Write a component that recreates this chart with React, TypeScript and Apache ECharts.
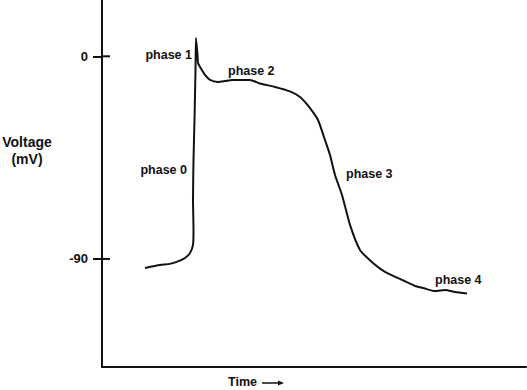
import React, { useEffect, useRef } from "react";
import * as echarts from "echarts";

const timeValues = [43, 58, 68, 76, 83, 88, 91, 91.5, 91, 91.5, 92.5, 93.5, 94, 95.5, 96, 98, 103, 108, 116, 123, 130, 138, 148, 158, 173, 188, 198, 208, 216, 223, 228, 233, 240, 248, 258, 271, 283, 298, 313, 321, 333, 343, 353, 365];
const voltageValues = [-94.0, -92.7, -92.2, -91.1, -89.6, -87.4, -83.8, -77.1, -63.8, -46.1, -28.3, -6.1, 8.1, 0.6, -3.0, -4.7, -8.3, -10.5, -11.4, -11.0, -10.5, -10.5, -10.5, -12.1, -13.6, -15.6, -18.1, -23.0, -28.3, -37.2, -43.8, -52.7, -61.6, -74.9, -86.0, -91.8, -95.8, -98.9, -102.0, -102.9, -104.3, -103.8, -104.7, -105.4];
const yTickValues = [0, -90];
const phaseLabels = ["phase 0", "phase 1", "phase 2", "phase 3", "phase 4"];
const axisTitleY = ["Voltage", "(mV)"];
const axisTitleX = "Time";

const FONT = "'Liberation Sans', Arial, Helvetica, sans-serif";

export default function App() {
  const ref = useRef<HTMLDivElement>(null);
  useEffect(() => {
    if (!ref.current) return;
    const chart = echarts.init(ref.current, null, { renderer: "svg" });
    const data = timeValues.map((t, i) => [t, voltageValues[i]]);
    const phasePos = [
      { x: 187, y: 170, align: "right" },
      { x: 192, y: 55, align: "right" },
      { x: 228, y: 71, align: "left" },
      { x: 346, y: 174, align: "left" },
      { x: 435, y: 280, align: "left" },
    ];
    const baseGraphic: any[] = [
      ...phaseLabels.map((txt, i) => ({
        type: "text",
        x: phasePos[i].x,
        y: phasePos[i].y,
        style: {
          text: txt,
          fill: "#111",
          font: `bold 12.5px ${FONT}`,
          textAlign: phasePos[i].align,
          textVerticalAlign: "middle",
        },
      })),
      {
        type: "text",
        x: 27,
        y: 142,
        style: { text: axisTitleY[0], fill: "#111", font: `bold 14px ${FONT}`, textAlign: "center", textVerticalAlign: "middle" },
      },
      {
        type: "text",
        x: 27,
        y: 159,
        style: { text: axisTitleY[1], fill: "#111", font: `bold 14px ${FONT}`, textAlign: "center", textVerticalAlign: "middle" },
      },
      {
        type: "text",
        x: 228,
        y: 382,
        style: { text: axisTitleX, fill: "#111", font: `bold 12.5px ${FONT}`, textAlign: "left", textVerticalAlign: "middle" },
      },
      {
        type: "line",
        shape: { x1: 262, y1: 383, x2: 279, y2: 383 },
        style: { stroke: "#111", lineWidth: 1.5 },
      },
      {
        type: "polygon",
        shape: { points: [[278, 380.5], [284, 383], [278, 385.5]] },
        style: { fill: "#111" },
      },
    ];
    chart.setOption({
      animation: false,
      backgroundColor: "#ffffff",
      grid: { left: 102, right: 1, top: 0, bottom: 23, containLabel: false },
      xAxis: {
        type: "value",
        min: 0,
        max: 424,
        axisLine: { show: true, onZero: false, lineStyle: { color: "#111", width: 2 } },
        axisTick: { show: false },
        axisLabel: { show: false },
        splitLine: { show: false },
      },
      yAxis: {
        type: "value",
        min: -138,
        max: 25,
        position: "left",
        axisLine: { show: true, onZero: false, lineStyle: { color: "#111", width: 2 } },
        axisTick: { show: true, inside: false, length: 9, lineStyle: { color: "#111", width: 2 }, customValues: yTickValues },
        axisLabel: {
          show: true,
          customValues: yTickValues,
          margin: 14,
          color: "#111",
          fontFamily: FONT,
          fontWeight: "bold",
          fontSize: 13,
        },
        splitLine: { show: false },
      },
      series: [
        {
          type: "line",
          data,
          smooth: 0.2,
          showSymbol: false,
          symbol: "none",
          lineStyle: { color: "#111", width: 2 },
        },
      ],
      graphic: baseGraphic,
    });
    // inner half of the crossing ticks, placed through the library's y scale
    const innerTicks = yTickValues.map((v) => {
      const p = chart.convertToPixel({ gridIndex: 0 }, [0, v]) as number[];
      return {
        type: "line",
        shape: { x1: p[0], y1: p[1], x2: p[0] + 8, y2: p[1] },
        style: { stroke: "#111", lineWidth: 2 },
      };
    });
    chart.setOption({ graphic: [...baseGraphic, ...innerTicks] });
    return () => chart.dispose();
  }, []);
  return (
    <div
      ref={ref}
      style={{ position: "fixed", left: 0, top: 0, width: 527, height: 390 }}
    />
  );
}
